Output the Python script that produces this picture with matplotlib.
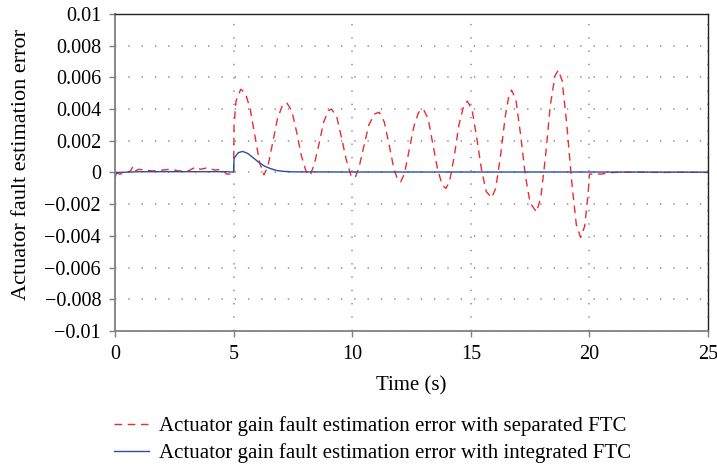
import matplotlib
matplotlib.use("Agg")
import matplotlib.pyplot as plt

# separated FTC estimation error (red dashed)
t_sep = [0, 0.2, 0.45, 0.65, 0.76, 0.85, 1.0, 1.3, 1.6, 2.0, 2.3, 2.7, 3.1, 3.4,
         3.6, 3.9, 4.2, 4.5, 4.7, 5.0,
         5.02, 5.1, 5.3, 5.5, 5.7, 5.9, 6.1, 6.28, 6.45, 6.65, 6.85, 7.05, 7.24,
         7.45, 7.65, 7.85, 8.05, 8.22, 8.4, 8.6, 8.8, 9.0, 9.13, 9.35, 9.55,
         9.75, 9.95, 10.12, 10.3, 10.5, 10.7, 10.95, 11.14, 11.35, 11.55, 11.75,
         11.9, 12.04, 12.2, 12.4, 12.6, 12.8, 13.0, 13.2, 13.4, 13.6, 13.8,
         13.95, 14.1, 14.3, 14.5, 14.7, 14.85, 15.05, 15.25, 15.45, 15.65,
         15.88, 16.05, 16.25, 16.45, 16.6, 16.72, 16.9, 17.1, 17.3, 17.5,
         17.77, 17.95, 18.15, 18.35, 18.55, 18.69, 18.85, 19.05, 19.25, 19.45,
         19.63, 19.8, 19.95, 20.0, 20.5, 21.0, 22.0, 23.0, 24.0, 25.0]
e_sep = [0, -0.0001, -0.00005, 0.0001, 0.00038, 0.0001, 0.0002, 0.00015,
         0.0001, 0.00015, 0.0002, 0.0001, 0.0001, 0.00035, 0.0002, 0.0003,
         0.00015, 0.0002, -0.0001, -0.0001,
         0.0030, 0.0045, 0.00525, 0.0050, 0.0040, 0.0023, 0.0006, -0.00015,
         0.0004, 0.0019, 0.0034, 0.0042, 0.0044, 0.0039, 0.0026, 0.0011,
         0.0001, -0.0002, 0.0005, 0.0018, 0.0032, 0.0039, 0.0040, 0.0035,
         0.0022, 0.0008, -0.0002, -0.00035, 0.0004, 0.0017, 0.0030, 0.0037,
         0.0038, 0.0032, 0.0018, 0.0003, -0.0004, -0.0006, -0.0001, 0.0014,
         0.0029, 0.0038, 0.0040, 0.0034, 0.0018, 0.0002, -0.0008, -0.0010,
         -0.0006, 0.0010, 0.0030, 0.0042, 0.0045, 0.0040, 0.0022, 0.0002,
         -0.0012, -0.0016, -0.0010, 0.0010, 0.0035, 0.0048, 0.0052, 0.0046,
         0.0024, -0.0002, -0.0019, -0.0025, -0.0016, 0.0010, 0.0042, 0.0061,
         0.00646, 0.0058, 0.0030, -0.0005, -0.0033, -0.0041, -0.0034,
         -0.0013, -0.0001, -0.0001, 0.0, 0.00003, 0.0, 0.00002, 0.0]

# integrated FTC estimation error (blue solid)
t_int = [0, 0.05, 0.5, 1.0, 2.0, 3.0, 4.0, 4.7, 5.0, 5.02, 5.2, 5.38, 5.6,
         5.85, 6.1, 6.3, 6.55, 6.8, 7.1, 7.5, 10.0, 15.0, 20.0, 25.0]
e_int = [-0.0004, 0.0, 0.00002, 0.00005, 0.00005, 0.00005, 0.00005, 0.00005,
         0.00002, 0.0009, 0.00125, 0.00133, 0.0012, 0.0009, 0.0006, 0.0004,
         0.00025, 0.00013, 0.00007, 0.00004, 0.00003, 0.00003, 0.00003, 0.00002]

xticks = [0, 5, 10, 15, 20, 25]
yticks = [0.01, 0.008, 0.006, 0.004, 0.002, 0, -0.002, -0.004, -0.006, -0.008, -0.01]
ytick_labels = ["0.01", "0.008", "0.006", "0.004", "0.002", "0",
                "\u22120.002", "\u22120.004", "\u22120.006", "\u22120.008", "\u22120.01"]

plt.rcParams["font.family"] = ["Liberation Serif", "DejaVu Serif"]
plt.rcParams["font.size"] = 15

fig = plt.figure(figsize=(7.17, 4.66), dpi=100)
ax = fig.add_axes([0.1604, 0.2897, 0.8270, 0.6803])

red, = ax.plot(t_sep, e_sep, color="#ea2c34", lw=1.0, dashes=(5.5, 4),
               label="Actuator gain fault estimation error with separated FTC")
blue, = ax.plot(t_int, e_int, color="#2c4ea0", lw=1.0,
                label="Actuator gain fault estimation error with integrated FTC")

ax.set_xlim(0, 25)
ax.set_ylim(-0.01, 0.01)
ax.set_xticks(xticks)
ax.set_yticks(yticks)
ax.set_yticklabels(ytick_labels)

ax.grid(True, color="#8a8a8a", linestyle=(0, (0.9, 7.8)), linewidth=1.1)
ax.set_axisbelow(True)

for side in ["left", "bottom"]:
    ax.spines[side].set_color("#808080")
    ax.spines[side].set_linewidth(1.3)
for side in ["top", "right"]:
    ax.spines[side].set_color("#222222")
    ax.spines[side].set_linewidth(1.0)

ax.tick_params(direction="out", length=4, width=1, color="#808080",
               labelsize=14.5, pad=6)

ax.set_xlabel("Time (s)", labelpad=9, fontsize=15)
ax.set_ylabel("Actuator fault estimation error", fontsize=16)
ax.yaxis.set_label_coords(-0.1417, 0.524)

fig.legend(handles=[red, blue], loc="upper left",
           bbox_to_anchor=(114 / 717, 1 - 416 / 466), frameon=False,
           borderpad=0, borderaxespad=0, handlelength=1.7,
           handletextpad=0.45, labelspacing=0.34, fontsize=15)

fig.savefig("out.png", dpi=100)
